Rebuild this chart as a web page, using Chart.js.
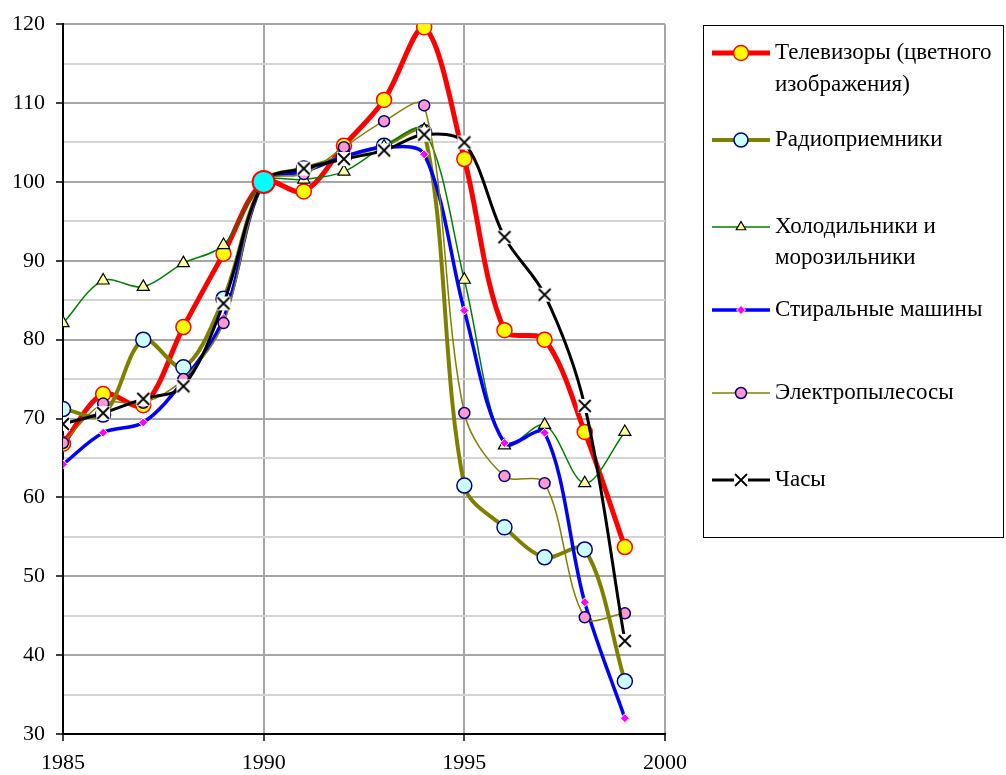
<!DOCTYPE html>
<html>
<head>
<meta charset="utf-8">
<script src="https://cdn.jsdelivr.net/npm/chart.js@4/dist/chart.umd.min.js"></script>
<style>
  html, body { margin: 0; padding: 0; background: #fff; }
  #wrap { width: 1006px; height: 775px; }
</style>
</head>
<body>
<div id="wrap"><canvas id="grafico" width="1006" height="775"></canvas></div>
<script>
// данные (1990 = 100)
const years = [1985, 1986, 1987, 1988, 1989, 1990, 1991, 1992, 1993, 1994, 1995, 1996, 1997, 1998, 1999];
const tv     = [66.8, 73.1, 71.7, 81.6, 90.9, 100, 98.8, 104.6, 110.4, 119.6, 102.9, 81.2, 80.0, 68.3, 53.7];
const radio  = [71.2, 70.5, 80.0, 76.5, 85.2, 100, 101.7, 103.2, 104.6, 106.3, 61.5, 56.2, 52.4, 53.4, 36.7];
const fridge = [82.1, 87.5, 86.7, 89.7, 92.0, 100, 100.3, 101.3, 104.5, 106.6, 87.6, 66.6, 69.2, 61.8, 68.3];
const washer = [64.2, 68.2, 69.5, 74.8, 82.7, 100, 101.3, 103.2, 104.4, 103.5, 83.7, 66.9, 68.2, 46.7, 32.0];
const vacuum = [66.9, 71.9, 72.0, 75.0, 82.1, 100, 101.0, 104.4, 107.7, 109.7, 70.7, 62.7, 61.8, 44.8, 45.3];
const clocks = [69.3, 70.7, 72.5, 74.1, 84.6, 100, 101.7, 102.9, 104.0, 106.0, 105.0, 93.0, 85.7, 71.6, 41.8];
const baseYear = [1990];
const baseValue = [100];

const seriesNames = [
    ['Телевизоры (цветного', 'изображения)'],
    ['Радиоприемники'],
    ['Холодильники и', 'морозильники'],
    ['Стиральные машины'],
    ['Электропылесосы'],
    ['Часы']
];
const xTicks = [1985, 1990, 1995, 2000];

const FONT = 'Liberation Serif';

function pontos(valores, xs) {
    return valores.map((v, i) => ({ x: (xs || years)[i], y: v }));
}

// маркер "X" на белом фоне, как в Excel
const marcadorX = document.createElement('canvas');
marcadorX.width = 16; marcadorX.height = 16;
(function() {
    const c = marcadorX.getContext('2d');
    c.fillStyle = '#fff';
    c.fillRect(1, 1, 14, 14);
    c.strokeStyle = '#000';
    c.lineWidth = 1.8;
    c.beginPath();
    c.moveTo(2, 2); c.lineTo(14, 14);
    c.moveTo(14, 2); c.lineTo(2, 14);
    c.stroke();
})();

// позиции строк легенды
const legendaY = [[53, 85], [140], [227, 258], [310], [393], [480]];

const legendaPlugin = {
    id: 'legendaCaixa',
    afterDraw(chart) {
        const ctx = chart.ctx;
        ctx.save();
        ctx.fillStyle = '#fff';
        ctx.strokeStyle = '#000';
        ctx.lineWidth = 1;
        ctx.fillRect(703.5, 25.5, 300, 512);
        ctx.strokeRect(703.5, 25.5, 300, 512);
        ctx.font = '23px "' + FONT + '"';
        ctx.textBaseline = 'middle';
        ctx.textAlign = 'left';
        for (let i = 0; i < seriesNames.length; i++) {
            const ds = chart.data.datasets[i];
            const y = legendaY[i][0];
            ctx.strokeStyle = ds.borderColor;
            ctx.lineWidth = ds.borderWidth;
            ctx.beginPath();
            ctx.moveTo(712, y);
            ctx.lineTo(770, y);
            ctx.stroke();
            ctx.fillStyle = ds.pointBackgroundColor;
            ctx.strokeStyle = ds.pointBorderColor;
            ctx.lineWidth = ds.pointBorderWidth;
            Chart.helpers.drawPoint(ctx, {
                pointStyle: ds.pointStyle,
                radius: ds.legendRadius,
                rotation: 0,
                borderWidth: ds.pointBorderWidth
            }, 741, y);
            ctx.fillStyle = '#000';
            seriesNames[i].forEach((linha, k) => ctx.fillText(linha, 775, legendaY[i][k]));
        }
        ctx.restore();
    }
};

const fundoBranco = {
    id: 'fundoBranco',
    beforeDraw(chart) {
        const c = chart.ctx;
        c.save();
        c.fillStyle = '#fff';
        c.fillRect(0, 0, chart.width, chart.height);
        c.restore();
    }
};

const TENSAO = 0.33;

new Chart(document.getElementById('grafico'), {
    type: 'line',
    data: {
        datasets: [
            {
                label: seriesNames[0].join(' '), data: pontos(tv), order: 10,
                borderColor: '#ff0000', borderWidth: 5, tension: TENSAO,
                pointStyle: 'circle', pointRadius: 7.5, legendRadius: 7.5,
                pointBackgroundColor: '#ffff00', pointBorderColor: '#ff0000', pointBorderWidth: 1.5
            },
            {
                label: seriesNames[1].join(' '), data: pontos(radio), order: 9,
                borderColor: '#808000', borderWidth: 4, tension: TENSAO,
                pointStyle: 'circle', pointRadius: 7.5, legendRadius: 7,
                pointBackgroundColor: '#ccffff', pointBorderColor: '#000080', pointBorderWidth: 1.5
            },
            {
                label: seriesNames[2].join(' '), data: pontos(fridge), order: 8,
                borderColor: '#008000', borderWidth: 1.5, tension: TENSAO,
                pointStyle: 'triangle', pointRadius: 7, legendRadius: 5.5,
                pointBackgroundColor: '#ffff99', pointBorderColor: '#000000', pointBorderWidth: 1.2
            },
            {
                label: seriesNames[3].join(' '), data: pontos(washer), order: 7,
                borderColor: '#0000ff', borderWidth: 3.5, tension: TENSAO,
                pointStyle: 'rectRot', pointRadius: 4.5, legendRadius: 4.5,
                pointBackgroundColor: '#ff00ff', pointBorderColor: '#ffffff', pointBorderWidth: 1
            },
            {
                label: seriesNames[4].join(' '), data: pontos(vacuum), order: 6,
                borderColor: '#808000', borderWidth: 1.5, tension: TENSAO,
                pointStyle: 'circle', pointRadius: 5.5, legendRadius: 5.5,
                pointBackgroundColor: '#ff99cc', pointBorderColor: '#000080', pointBorderWidth: 1.5
            },
            {
                label: seriesNames[5].join(' '), data: pontos(clocks), order: 5,
                borderColor: '#000000', borderWidth: 3, tension: TENSAO,
                pointStyle: marcadorX, pointRadius: 8, legendRadius: 8,
                pointBackgroundColor: '#ffffff', pointBorderColor: '#000000', pointBorderWidth: 1
            },
            {
                label: 'база', data: pontos(baseValue, baseYear), order: 0,
                showLine: false,
                pointStyle: 'circle', pointRadius: 11,
                pointBackgroundColor: '#00ffff', pointBorderColor: '#ff0000', pointBorderWidth: 2
            }
        ]
    },
    options: {
        responsive: false,
        animation: false,
        layout: { padding: { left: 0, top: 24, right: 341, bottom: 0 } },
        plugins: { legend: { display: false }, tooltip: { enabled: false } },
        elements: { line: { borderJoinStyle: 'round', borderCapStyle: 'round' } },
        scales: {
            x: {
                type: 'linear', min: 1985, max: 2000,
                afterBuildTicks: s => { s.ticks = xTicks.map(v => ({ value: v })); },
                afterFit: s => { s.height = 41; },
                ticks: {
                    color: '#000', font: { family: FONT, size: 22 }, padding: 9,
                    maxRotation: 0, autoSkip: false,
                    callback: v => String(v)
                },
                grid: {
                    color: '#a6a6a6', lineWidth: 2,
                    tickColor: '#000', tickLength: 7, tickWidth: 1.5
                },
                border: { color: '#000', width: 2 }
            },
            y: {
                min: 30, max: 120,
                afterFit: s => { s.width = 63; },
                ticks: {
                    stepSize: 5, color: '#000', font: { family: FONT, size: 22 }, padding: 11,
                    autoSkip: false,
                    callback: v => (v % 10 === 0 ? v : '')
                },
                grid: {
                    color: c => (c.tick && c.tick.value % 10 === 0 ? '#a6a6a6' : '#d4d4d4'),
                    lineWidth: 2,
                    tickColor: c => (c.tick && c.tick.value % 10 === 0 ? '#000' : 'rgba(0,0,0,0)'),
                    tickLength: 7, tickWidth: 1.5
                },
                border: { color: '#000', width: 2 }
            }
        }
    },
    plugins: [fundoBranco, legendaPlugin]
});
</script>
</body>
</html>
